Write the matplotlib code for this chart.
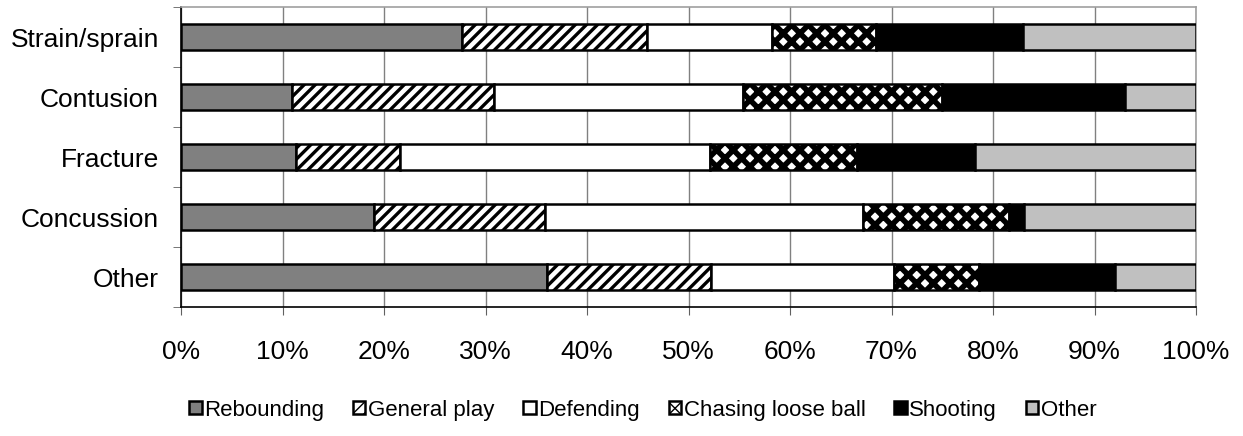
import numpy as np
import matplotlib.pyplot as plt

plt.rcParams["font.family"] = ["Liberation Sans", "DejaVu Sans"]

CATEGORIES = ["Strain/sprain", "Contusion", "Fracture", "Concussion", "Other"]
SERIES = ["Rebounding", "General play", "Defending", "Chasing loose ball", "Shooting", "Other"]

# percent share per injury type, in SERIES order
REBOUNDING = [27.7, 10.9, 11.3, 19.0, 36.1]
GENERAL_PLAY = [18.2, 19.9, 10.3, 16.9, 16.1]
DEFENDING = [12.3, 24.6, 30.5, 31.3, 18.0]
CHASING = [10.3, 19.6, 14.5, 14.4, 8.4]
SHOOTING = [14.5, 18.0, 11.6, 1.5, 13.4]
OTHER = [17.0, 7.0, 21.8, 16.9, 8.0]

XTICKS = [0, 10, 20, 30, 40, 50, 60, 70, 80, 90, 100]

STYLES = [
    dict(color="#808080", hatch=None, hlw=1.0),
    dict(color="white", hatch="///", hlw=2.4),
    dict(color="white", hatch=None, hlw=1.0),
    dict(color="white", hatch="xx", hlw=4.0),
    dict(color="black", hatch=None, hlw=1.0),
    dict(color="#c0c0c0", hatch=None, hlw=1.0),
]

fig = plt.figure(figsize=(12.43, 4.36), dpi=100)
ax = fig.add_axes([181 / 1243, 1 - 307 / 436, 1015 / 1243, 300 / 436])

values = np.array([REBOUNDING, GENERAL_PLAY, DEFENDING, CHASING, SHOOTING, OTHER])
ypos = np.arange(len(CATEGORIES))[::-1]
left = np.zeros(len(CATEGORIES))
handles = []
for name, vals, st in zip(SERIES, values, STYLES):
    plt.rcParams["hatch.linewidth"] = st["hlw"]
    bars = ax.barh(ypos, vals, left=left, height=0.42, color=st["color"],
                   hatch=st["hatch"], edgecolor="black", linewidth=1.8,
                   label=name, zorder=3)
    handles.append(bars)
    left += vals

ax.set_xlim(0, 100)
ax.set_ylim(-0.5, len(CATEGORIES) - 0.5)
ax.set_xticks(XTICKS)
ax.set_xticklabels([f"{t}%" for t in XTICKS])
ax.set_yticks(ypos)
ax.set_yticklabels(CATEGORIES)
ax.set_yticks(np.arange(-0.5, len(CATEGORIES)), minor=True)
ax.tick_params(axis="y", which="major", length=0, pad=16, labelsize=19)
ax.tick_params(axis="y", which="minor", length=6, color="#606060")
ax.tick_params(axis="x", length=6, pad=18, labelsize=19, color="#606060")

ax.grid(axis="x", color="#808080", linewidth=1, zorder=0)
ax.spines["left"].set_color("black")
ax.spines["bottom"].set_color("black")
ax.spines["top"].set_color("#a0a0a0")
ax.spines["right"].set_color("#a0a0a0")
for s in ax.spines.values():
    s.set_linewidth(1.2)

plt.rcParams["hatch.linewidth"] = 1.0
fig.legend(handles=handles, labels=SERIES, loc="center",
           bbox_to_anchor=(643 / 1243, 1 - 410 / 436), ncol=6, frameon=False,
           fontsize=16, handlelength=0.55, handleheight=0.55,
           handletextpad=0.12, columnspacing=1.3)

fig.savefig("out.png", dpi=100)
